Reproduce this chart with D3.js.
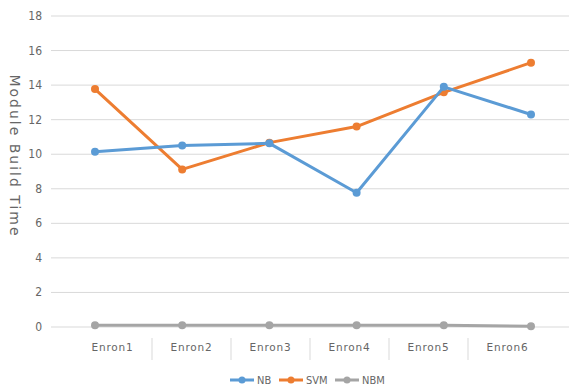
<!DOCTYPE html>
<html>
<head>
<meta charset="utf-8">
<script src="https://cdn.jsdelivr.net/npm/d3@7"></script>
<style>
	body { margin: 0; background: #fff; }
	svg { display: block; }
	.ytick { font-family: "Liberation Sans Narrow", "DejaVu Sans Condensed", sans-serif; font-stretch: condensed; font-size: 12px; fill: #666; }
	.xtick { font-family: "DejaVu Sans", Verdana, sans-serif; font-size: 10.5px; letter-spacing: 0.8px; fill: #666; }
	.legend { font-family: "Liberation Sans Narrow", "DejaVu Sans Condensed", sans-serif; font-stretch: condensed; font-size: 11px; fill: #666; }
</style>
</head>
<body>
<svg id="chart" width="569" height="388" viewBox="0 0 569 388"></svg>
<script>
const categories = ["Enron1", "Enron2", "Enron3", "Enron4", "Enron5", "Enron6"];
const nb = [10.15, 10.5, 10.63, 7.77, 13.9, 12.3];
const svm = [13.77, 9.12, 10.67, 11.6, 13.58, 15.3];
const nbm = [0.1, 0.1, 0.1, 0.1, 0.1, 0.05];
const yTicks = [0, 2, 4, 6, 8, 10, 12, 14, 16, 18];

const series = [
	{ name: "NB", values: nb, color: "#5b9bd5" },
	{ name: "SVM", values: svm, color: "#ed7d31" },
	{ name: "NBM", values: nbm, color: "#a5a5a5" }
];

const svg = d3.select("#chart");

const y = d3.scaleLinear().domain([0, 18]).range([327, 16]);
// marks and category labels don't line up in the original picture, so two scales
const xPoint = d3.scalePoint().domain(categories).range([95, 531]);
const xBand = d3.scaleBand().domain(categories).range([73, 547]);

// gridlines
svg.append("g")
	.selectAll("line")
	.data(yTicks)
	.join("line")
	.attr("x1", 51)
	.attr("x2", 569)
	.attr("y1", d => y(d))
	.attr("y2", d => y(d))
	.attr("stroke", "#d9d9d9")
	.attr("stroke-width", 1);

svg.append("g")
	.selectAll("text")
	.data(yTicks)
	.join("text")
	.attr("class", "ytick")
	.attr("x", 42)
	.attr("y", d => y(d) + 4)
	.attr("text-anchor", "end")
	.text(d => d);

// category separators
svg.append("g")
	.selectAll("line")
	.data(categories.slice(1))
	.join("line")
	.attr("x1", d => xBand(d))
	.attr("x2", d => xBand(d))
	.attr("y1", 338)
	.attr("y2", 360)
	.attr("stroke", "#d9d9d9");

svg.append("g")
	.selectAll("text")
	.data(categories)
	.join("text")
	.attr("class", "xtick")
	.attr("x", d => xBand(d) + xBand.bandwidth() / 2)
	.attr("y", 351)
	.attr("text-anchor", "middle")
	.text(d => d);

// axis title
svg.append("text")
	.attr("transform", "translate(10,156) rotate(90)")
	.attr("text-anchor", "middle")
	.style("font-family", "DejaVu Sans, sans-serif")
	.style("font-size", "14px")
	.style("letter-spacing", "2px")
	.style("fill", "#666")
	.text("Module Build Time");

const line = d3.line()
	.x((d, i) => xPoint(categories[i]))
	.y(d => y(d));

const seriesG = svg.append("g")
	.selectAll("g")
	.data(series.slice().reverse())
	.join("g");

seriesG.append("path")
	.attr("d", d => line(d.values))
	.attr("fill", "none")
	.attr("stroke", d => d.color)
	.attr("stroke-width", 3)
	.attr("stroke-linejoin", "round");

seriesG.selectAll("circle")
	.data(d => d.values.map(v => ({ v, color: d.color })))
	.join("circle")
	.attr("cx", (d, i) => xPoint(categories[i]))
	.attr("cy", d => y(d.v))
	.attr("r", 4)
	.attr("fill", d => d.color);

// legend
const legendX = [230, 279, 335];
const legend = svg.append("g")
	.selectAll("g")
	.data(series)
	.join("g")
	.attr("transform", (d, i) => `translate(${legendX[i]},380)`);

legend.append("line")
	.attr("x1", 0)
	.attr("x2", 24)
	.attr("stroke", d => d.color)
	.attr("stroke-width", 3);

legend.append("circle")
	.attr("cx", 12)
	.attr("r", 3.5)
	.attr("fill", d => d.color);

legend.append("text")
	.attr("class", "legend")
	.attr("x", 27)
	.attr("y", 4)
	.text(d => d.name);
</script>
</body>
</html>
